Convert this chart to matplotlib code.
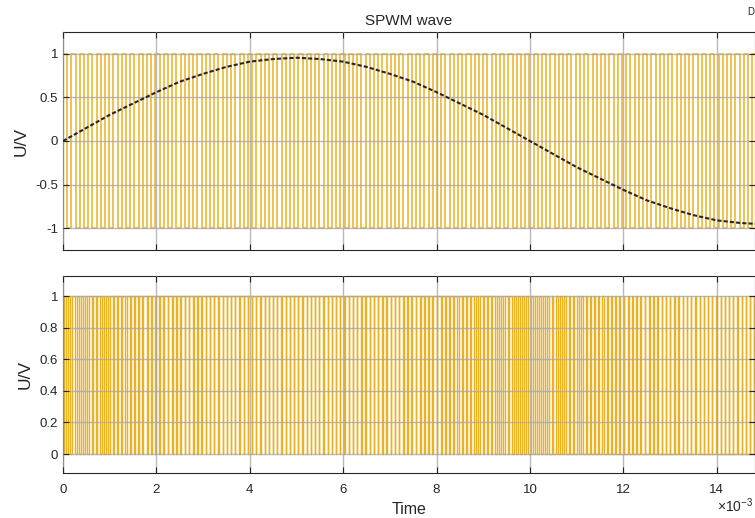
import numpy as np
import matplotlib
matplotlib.use("Agg")
import matplotlib.pyplot as plt

plt.rcParams['font.family'] = ['Liberation Sans', 'DejaVu Sans']
plt.rcParams['mathtext.fontset'] = 'custom'
plt.rcParams['mathtext.rm'] = 'Liberation Sans'

# modulating sine, read every 0.5 ms (time in ms)
sine_t = np.arange(0, 15.01, 0.5)
sine_v = [0.00, 0.15, 0.30, 0.43, 0.56, 0.68, 0.77, 0.85, 0.91, 0.94, 0.955,
          0.94, 0.91, 0.85, 0.77, 0.68, 0.56, 0.43, 0.30, 0.15, 0.00,
          -0.15, -0.30, -0.43, -0.56, -0.68, -0.77, -0.85, -0.91, -0.94, -0.955]

carrier_half_ms = 0.09      # spacing of carrier edges
pwm_period_ms = 0.09        # spacing of pwm pulses
carrier_levels = [-1, 1]
pwm_levels = [0, 1]

x_ticks = [0, 2, 4, 6, 8, 10, 12, 14]
top_yticks = [-1, -0.5, 0, 0.5, 1]
top_ylabels = ['-1', '-0.5', '0', '0.5', '1']
bot_yticks = [0, 0.2, 0.4, 0.6, 0.8, 1]
bot_ylabels = ['0', '0.2', '0.4', '0.6', '0.8', '1']
x_max = 14.82

orange = '#EDB120'
dark = '#262626'

# carrier: vertical edges alternating between the two levels
edges = np.arange(0, x_max + carrier_half_ms, carrier_half_ms)
cx, cy = [], []
prev = carrier_levels[0]
for k, e in enumerate(edges):
    new = carrier_levels[1] if k % 2 == 0 else carrier_levels[0]
    cx += [e, e]
    cy += [prev, new]
    prev = new

# pwm output: one centred pulse per period, width from the sine
px, py = [0], [pwm_levels[0]]
for c in np.arange(pwm_period_ms / 2, x_max + pwm_period_ms, pwm_period_ms):
    duty = (1 + np.interp(c, sine_t, sine_v)) / 2
    a, b = c - duty * pwm_period_ms / 2, c + duty * pwm_period_ms / 2
    px += [a, a, b, b]
    py += [pwm_levels[0], pwm_levels[1], pwm_levels[1], pwm_levels[0]]

fig = plt.figure(figsize=(7.55, 5.18), dpi=100)
ax1 = fig.add_axes([63 / 755, 1 - 250 / 518, 692 / 755, 218 / 518])
ax2 = fig.add_axes([63 / 755, 1 - 473 / 518, 692 / 755, 197 / 518])

ax1.plot(cx, cy, color=orange, lw=1.1, zorder=1)
ax1.plot(sine_t, sine_v, color=dark, lw=1.5, ls=(0, (2, 1)), zorder=3)
ax2.plot(px, py, color=orange, lw=1.0, zorder=1)

for ax in (ax1, ax2):
    ax.set_xlim(0, x_max)
    ax.set_xticks(x_ticks)
    ax.grid(True, color='#a8a8a8', lw=1.0, alpha=0.8, zorder=2)
    ax.set_axisbelow(False)
    ax.tick_params(direction='in', top=True, right=True, labelsize=9.5,
                   length=4, width=0.8, colors=dark)
    for s in ax.spines.values():
        s.set_color(dark)
        s.set_linewidth(0.8)
    ax.set_ylabel('U/V', fontsize=12.5, color=dark, labelpad=5)

ax1.set_ylim(-1.25, 1.25)
ax1.set_yticks(top_yticks)
ax1.set_yticklabels(top_ylabels)
ax1.set_xticklabels([])
ax1.set_title('SPWM wave', fontsize=11, color=dark, pad=5)

ax2.set_ylim(-0.12, 1.127)
ax2.set_yticks(bot_yticks)
ax2.set_yticklabels(bot_ylabels)
ax2.set_xticklabels([str(t) for t in x_ticks])
ax2.tick_params(axis='x', pad=8)
ax2.set_xlabel('Time', fontsize=11.5, color=dark, labelpad=4)

fig.text(0.998, 3 / 518, r'$\times10^{-3}$', ha='right', va='bottom',
         fontsize=10, color=dark)
fig.text(0.999, 1 - 12 / 518, 'D', ha='right', va='center',
         fontsize=7, color=dark)

fig.savefig('out.png', dpi=100)
